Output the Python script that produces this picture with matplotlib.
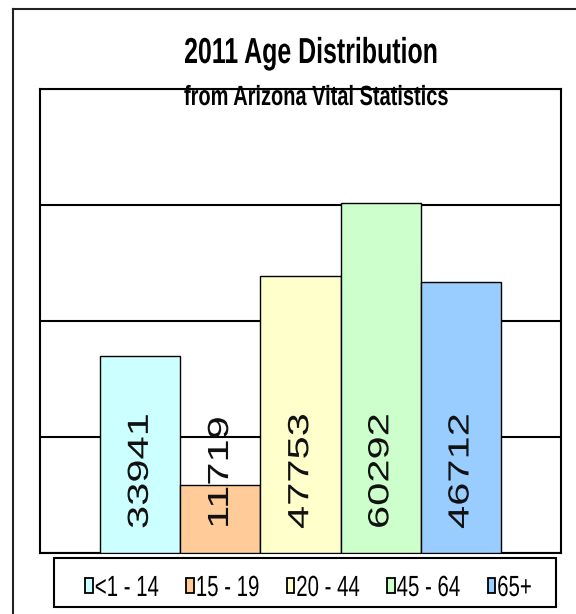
import matplotlib.pyplot as plt
from matplotlib import patheffects
from matplotlib.lines import Line2D
from matplotlib.patches import Rectangle
from matplotlib.transforms import Affine2D

# données
age_groups = ["<1 - 14", "15 - 19", "20 - 44", "45 - 64", "65+"]
counts = [33941, 11719, 47753, 60292, 46712]
colors = ["#CCFFFF", "#FFCC99", "#FFFFCC", "#CCFFCC", "#99CCFF"]
y_ticks = [0, 20000, 40000, 60000, 80000]

FONT = "Liberation Sans"


class Squeeze(patheffects.AbstractPathEffect):
    """Resserre le texte horizontalement autour de cx (pixels), ou du début de ligne."""

    def __init__(self, sx, cx=None):
        super().__init__()
        self.sx = sx
        self.cx = cx

    def draw_path(self, renderer, gc, tpath, affine, rgbFace=None):
        cx = self.cx if self.cx is not None else affine.get_matrix()[0, 2]
        t = affine + Affine2D().translate(-cx, 0).scale(self.sx, 1).translate(cx, 0)
        renderer.draw_path(gc, tpath, t, rgbFace)


fig = plt.figure(figsize=(5.76, 6.14), dpi=100)
ax = fig.add_axes([40 / 576, 61 / 614, 521 / 576, 464 / 614])

x = list(range(len(counts)))
ax.bar(x, counts, width=1.0, color=colors, edgecolor="black", linewidth=1.0, zorder=3)

ax.set_xlim(-1.25, len(counts) + 0.25)
ax.set_ylim(y_ticks[0], y_ticks[-1])
ax.set_yticks(y_ticks)
ax.set_xticks([])
ax.yaxis.grid(True, color="black", linewidth=1.5, zorder=0)
ax.tick_params(left=False, labelleft=False)
for s in ax.spines.values():
    s.set_linewidth(1.5)

for xi, v in zip(x, counts):
    cx = ax.transData.transform((xi, 0))[0]
    ax.annotate(
        str(v), xy=(xi, 0), xytext=(0, 24), textcoords="offset pixels",
        rotation=90, ha="center", va="bottom",
        fontsize=30, family=FONT, color="#111111", zorder=4,
        path_effects=[Squeeze(0.70, cx)],
    )

# titre
fig.text(311 / 576, 1 - 63 / 614, "2011 Age Distribution", ha="center",
         va="baseline", fontsize=26, fontweight="bold", family=FONT,
         path_effects=[Squeeze(0.69, 311)])
fig.text(316 / 576, 1 - 105 / 614, "from Arizona Vital Statistics", ha="center",
         va="baseline", fontsize=20, fontweight="bold", family=FONT,
         zorder=5, path_effects=[Squeeze(0.72, 316)])

# légende
handles = [Rectangle((0, 0), 1, 1, facecolor=c, edgecolor="black", linewidth=1.3)
           for c in colors]
leg = fig.legend(
    handles, age_groups, loc="center", ncol=5,
    bbox_to_anchor=(316 / 576, 1 - 588 / 614),
    prop={"family": FONT, "size": 21},
    frameon=False,
    handlelength=0.26, handleheight=0.42, handletextpad=0.06,
    columnspacing=0.02, borderaxespad=0,
)
for t in leg.get_texts():
    t.set_path_effects([Squeeze(0.70)])
fig.add_artist(Rectangle((54 / 576, 7 / 614), 502 / 576, 49 / 614,
                         transform=fig.transFigure, fill=False,
                         edgecolor="black", linewidth=1.5))

# cadre extérieur
fig.add_artist(Line2D([13 / 576, 13 / 576], [0, 1 - 9 / 614], color="#222222", linewidth=1.5))
fig.add_artist(Line2D([13 / 576, 1], [1 - 9 / 614, 1 - 9 / 614], color="#222222", linewidth=1.5))

fig.savefig("out.png", dpi=100)
